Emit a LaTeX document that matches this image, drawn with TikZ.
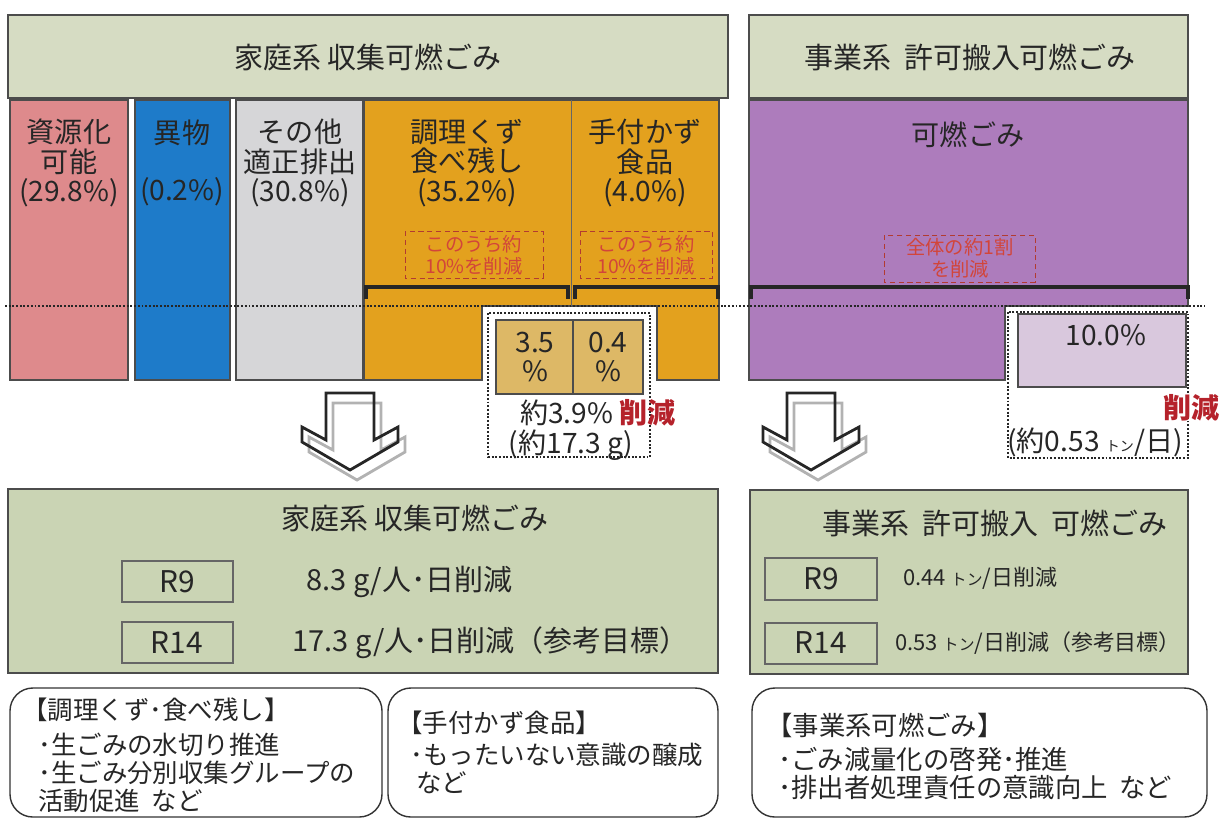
\documentclass[tikz,border=0pt]{standalone}
\usepackage{fontspec}
\setmainfont{Noto Sans CJK JP}
\usepackage{xcolor}
\usetikzlibrary{positioning}

\definecolor{hdrgreen}{HTML}{D6DCC3}
\definecolor{lowgreen}{HTML}{CAD4B4}
\definecolor{recpink}{HTML}{DE8A8C}
\definecolor{forblue}{HTML}{1E7BC9}
\definecolor{othgray}{HTML}{D6D6D8}
\definecolor{foodorg}{HTML}{E3A11E}
\definecolor{cuttan}{HTML}{DDB866}
\definecolor{bizpurp}{HTML}{AD7CBC}
\definecolor{cutpurp}{HTML}{D9C8DD}
\definecolor{notered}{HTML}{D2453A}
\definecolor{cutred}{HTML}{B5222B}

\tikzset{
  downarrow/.pic = {
    \draw[black!30, line width = 1.6pt, shift = {(7,10)}]
      (-24,0) -- (24,0) -- (24,47) -- (48,34) -- (48,49) -- (0,77)
      -- (-48,49) -- (-48,34) -- (-24,47) -- cycle;
    \draw[black!85, line width = 1.6pt]
      (-24,0) -- (24,0) -- (24,47) -- (48,34) -- (48,49) -- (0,77)
      -- (-48,49) -- (-48,34) -- (-24,47) -- cycle;
  }
}

\begin{document}
\begin{tikzpicture}
  [
    x = 0.02cm, y = -0.02cm,
    box/.style = {draw = black!70, line width = 0.6pt},
    hdr/.style = {box, fill = hdrgreen},
    low/.style = {box, fill = lowgreen},
    txt/.style = {inner sep = 0pt, align = center, text = black!85,
                  font = \fontsize{16}{17}\selectfont},
    big/.style = {txt, font = \fontsize{16.5}{18}\selectfont},
    small/.style = {txt, font = \fontsize{12.5}{14}\selectfont},
    note/.style = {draw = notered!85!black, densely dashed, line width = 0.5pt},
    notetxt/.style = {txt, text = notered, font = \fontsize{11}{12.5}\selectfont},
    cutbox/.style = {densely dotted, line width = 1.1pt, draw = black!85, fill = white},
    brace/.style = {line width = 2.2pt, black!85},
    memo/.style = {draw = black!80, line width = 0.8pt, rounded corners = 13pt},
    memotxt/.style = {inner sep = 0pt, align = left, text = black!85,
                      font = \fontsize{14.5}{15.9}\selectfont},
  ]
  \useasboundingbox (0,0) rectangle (1222,819);

  % headers
  \draw[hdr] (8,15) rectangle (728,98);
  \node[big] (home_hdr) at (368,57) {家庭系 収集可燃ごみ};
  \draw[hdr] (749,15) rectangle (1188,98);
  \node[big] (biz_hdr) at (970,57) {事業系\ \ 許可搬入可燃ごみ};

  % household columns
  \draw[box, fill = recpink] (10,100) rectangle (128,380);
  \draw[box, fill = forblue] (135,100) rectangle (230,380);
  \draw[box, fill = othgray] (236,100) rectangle (363,380);
  \draw[box, fill = foodorg] (364,100) -- (719,100) -- (719,380) -- (657,380)
    -- (657,306) -- (482,306) -- (482,380) -- (364,380) -- cycle;
  \draw[black!60, line width = 0.4pt] (571,100) -- (571,306);

  \node[txt] (recycle) at (69,163) {資源化\\可能\\(29.8\%)};
  \node[txt] (foreign) at (182,133) {異物};
  \node[txt] (foreign_pct) at (182,192) {(0.2\%)};
  \node[txt] (other) at (300,163) {その他\\適正排出\\(30.8\%)};
  \node[txt] (scraps) at (467,163) {調理くず\\食べ残し\\(35.2\%)};
  \node[txt] (unused) at (645,163) {手付かず\\食品\\(4.0\%)};

  \draw[note] (405,231) rectangle (543,278);
  \node[notetxt] (scraps_note) at (474,255) {このうち約\\10\%を削減};
  \draw[note] (580,231) rectangle (712,278);
  \node[notetxt] (unused_note) at (646,255) {このうち約\\10\%を削減};

  \draw[brace] (366,299) |- (568,287) -- (568,299);
  \draw[brace] (575,299) |- (718,287) -- (718,299);

  % business column
  \draw[box, fill = bizpurp] (749,100) -- (1188,100) -- (1188,306) -- (1005,306)
    -- (1005,380) -- (749,380) -- cycle;
  \node[txt] (burnable) at (968,135) {可燃ごみ};
  \draw[note] (884,235) rectangle (1035,282);
  \node[notetxt] (biz_note) at (960,258) {全体の約1割\\を削減};
  \draw[brace] (751,299) |- (1188,287) -- (1188,299);

  \draw[densely dotted, line width = 1.1pt, black!85] (5,306) -- (1205,306);

  % reduced parts
  \draw[cutbox] (488,313) rectangle (650,457);
  \draw[box, fill = cuttan] (496,320) rectangle (573,394);
  \draw[box, fill = cuttan] (573,320) rectangle (643,394);
  \node[txt] (scraps_cut) at (535,357) {3.5\\\%};
  \node[txt] (unused_cut) at (608,357) {0.4\\\%};
  \node[txt] (home_cut) at (598,413) {約3.9\% \textcolor{cutred}{\bfseries 削減}};
  \node[txt] (home_gram) at (571,445) {(約17.3 g)};

  \draw[cutbox] (1008,312) rectangle (1188,458);
  \draw[box, fill = cutpurp] (1018,314) rectangle (1186,387);
  \node[txt] (biz_cut) at (1106,335) {10.0\%};
  \node[txt, text = cutred, font = \fontsize{16}{17}\bfseries, anchor = east] (biz_cutlbl) at (1220,408) {削減};
  \node[txt] (biz_ton) at (1095,442) {(約0.53 {\fontsize{8}{9}\selectfont トン}/日)};

  % arrows
  \pic at (350,393) {downarrow};
  \pic at (811,393) {downarrow};

  % targets
  \draw[low] (8,489) rectangle (718,673);
  \node[big] (home_tgt) at (415,518) {家庭系 収集可燃ごみ};
  \draw[box, draw = black!60] (122,561) rectangle (233,602);
  \node[big, font = \fontsize{17}{18}\selectfont] (home_r9) at (177,582) {R9};
  \draw[box, draw = black!60] (122,622) rectangle (233,663);
  \node[big, font = \fontsize{17}{18}\selectfont] (home_r14) at (177,643) {R14};
  \node[big, anchor = west] (home_r9val) at (306,582) {8.3 g/人･日削減};
  \node[big, anchor = west] (home_r14val) at (292,643) {17.3 g/人･日削減（参考目標）};

  \draw[low] (750,490) rectangle (1188,674);
  \node[big, anchor = west] (biz_tgt) at (822,523) {事業系\ \ 許可搬入\ \ 可燃ごみ};
  \draw[box, draw = black!60] (765,558) rectangle (877,600);
  \node[big, font = \fontsize{17}{18}\selectfont] (biz_r9) at (821,579) {R9};
  \draw[box, draw = black!60] (765,623) rectangle (877,664);
  \node[big, font = \fontsize{17}{18}\selectfont] (biz_r14) at (821,643) {R14};
  \node[small, anchor = west] (biz_r9val) at (903,578)
    {0.44 {\fontsize{9}{10}\selectfont トン}/日削減};
  \node[small, anchor = west] (biz_r14val) at (895,643)
    {0.53 {\fontsize{9}{10}\selectfont トン}/日削減（参考目標）};

  % measures
  \draw[memo] (10,688) rectangle (382,817);
  \node[memotxt, anchor = west] (scraps_head) at (22,710) {【調理くず･食べ残し】};
  \node[memotxt, anchor = north west] (scraps_list) at (38,733)
    {･生ごみの水切り推進\\･生ごみ分別収集グループの\\活動促進\ \ など};
  \draw[memo] (388,688) rectangle (718,817);
  \node[memotxt, anchor = west] (unused_head) at (397,723) {【手付かず食品】};
  \node[memotxt, anchor = north west] (unused_list) at (410,743)
    {･もったいない意識の醸成\\\ など};
  \draw[memo] (752,688) rectangle (1207,817);
  \node[memotxt, anchor = west, font = \fontsize{15}{16}\selectfont] (biz_head) at (766,725)
    {【事業系可燃ごみ】};
  \node[memotxt, anchor = north west, font = \fontsize{15}{16}\selectfont] (biz_list) at (778,747)
    {･ごみ減量化の啓発･推進\\･排出者処理責任の意識向上\ \ など};
\end{tikzpicture}
\end{document}
